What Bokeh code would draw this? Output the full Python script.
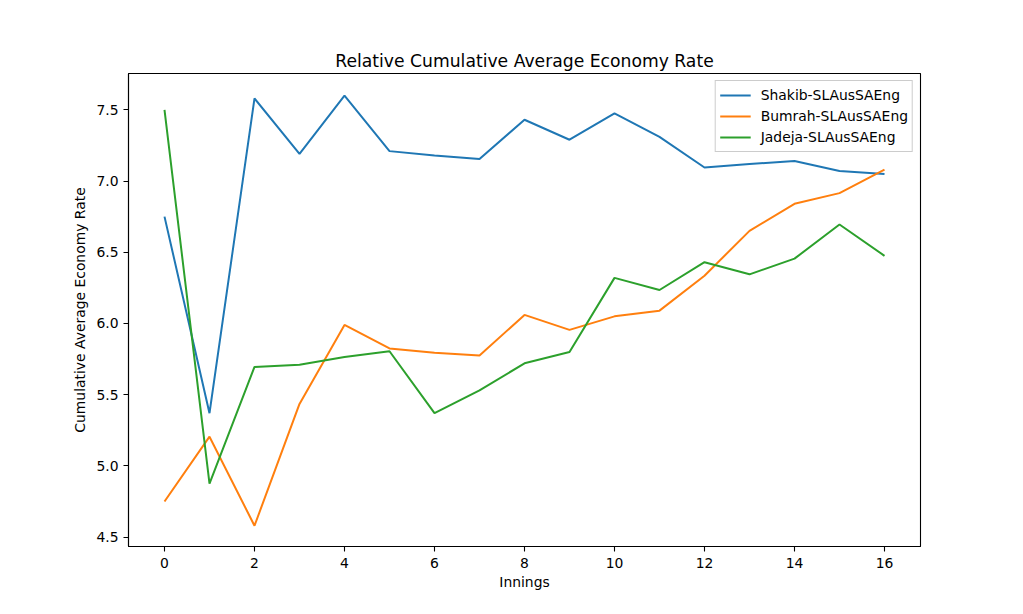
from bokeh.plotting import figure
from bokeh.models import Range1d, Legend, LegendItem, FixedTicker
from bokeh.embed import file_html
from bokeh.resources import INLINE

innings = list(range(17))
shakib = [6.75, 5.37, 7.58, 7.19, 7.60, 7.21, 7.18, 7.155, 7.43, 7.29, 7.475, 7.31, 7.095, 7.12, 7.14, 7.07, 7.05]
bumrah = [4.75, 5.205, 4.58, 5.435, 5.99, 5.825, 5.795, 5.775, 6.06, 5.955, 6.05, 6.09, 6.335, 6.65, 6.84, 6.915, 7.08]
jadeja = [7.50, 4.875, 5.695, 5.71, 5.765, 5.805, 5.37, 5.53, 5.72, 5.80, 6.32, 6.235, 6.43, 6.345, 6.455, 6.695, 6.475]
names = ["Shakib-SLAusSAEng", "Bumrah-SLAusSAEng", "Jadeja-SLAusSAEng"]
colors = ["#1f77b4", "#ff7f0e", "#2ca02c"]
x_ticks = [0, 2, 4, 6, 8, 10, 12, 14, 16]
y_ticks = [4.5, 5.0, 5.5, 6.0, 6.5, 7.0, 7.5]

FONT = "DejaVu Sans"

p = figure(frame_width=792, frame_height=473, output_backend="svg", toolbar_location=None,
           min_border_left=128, min_border_right=88, min_border_top=73, min_border_bottom=45,
           x_range=Range1d(-0.8, 16.8), y_range=Range1d(4.434, 7.755),
           title="Relative Cumulative Average Economy Rate")

p.title.align = "center"
p.title.text_font = FONT
p.title.text_font_size = "17.2px"
p.title.text_font_style = "normal"
p.title.text_color = "#000000"
p.title.standoff = 6

p.grid.visible = False
p.outline_line_color = "#000000"
p.outline_line_width = 1.1

for ax in (p.xaxis[0], p.yaxis[0]):
    ax.axis_line_color = "#000000"
    ax.axis_line_width = 1.1
    ax.major_tick_line_color = "#000000"
    ax.major_tick_line_width = 1.1
    ax.major_tick_out = 5
    ax.major_tick_in = 0
    ax.minor_tick_line_color = None
    ax.major_label_text_font = FONT
    ax.major_label_text_font_size = "13.9px"
    ax.major_label_text_color = "#000000"
    ax.axis_label_text_font = FONT
    ax.axis_label_text_font_size = "13.9px"
    ax.axis_label_text_font_style = "normal"
    ax.axis_label_text_color = "#000000"

p.xaxis.ticker = FixedTicker(ticks=x_ticks)
p.yaxis.ticker = FixedTicker(ticks=y_ticks)
p.yaxis.major_label_overrides = {v: f"{v:.1f}" for v in y_ticks}
p.xaxis.axis_label = "Innings"
p.yaxis.axis_label = "Cumulative Average Economy Rate"
p.xaxis.major_label_standoff = 6
p.yaxis.major_label_standoff = 5
p.xaxis.axis_label_standoff = 3
p.yaxis.axis_label_standoff = 5

items = []
for series, name, c in zip([shakib, bumrah, jadeja], names, colors):
    r = p.line(innings, series, line_color=c, line_width=2)
    items.append(LegendItem(label=name, renderers=[r]))

legend = Legend(items=items, location="top_right")
legend.margin = 7
legend.padding = 4
legend.spacing = 1
legend.label_height = 20
legend.glyph_height = 20
legend.glyph_width = 31
legend.label_standoff = 10
legend.label_text_font = FONT
legend.label_text_font_size = "13.9px"
legend.label_text_color = "#000000"
legend.border_line_color = "#cccccc"
legend.border_line_width = 1
legend.border_line_alpha = 1.0
legend.background_fill_alpha = 0.8
p.add_layout(legend)

open("out.html", "w").write(file_html(p, INLINE))
